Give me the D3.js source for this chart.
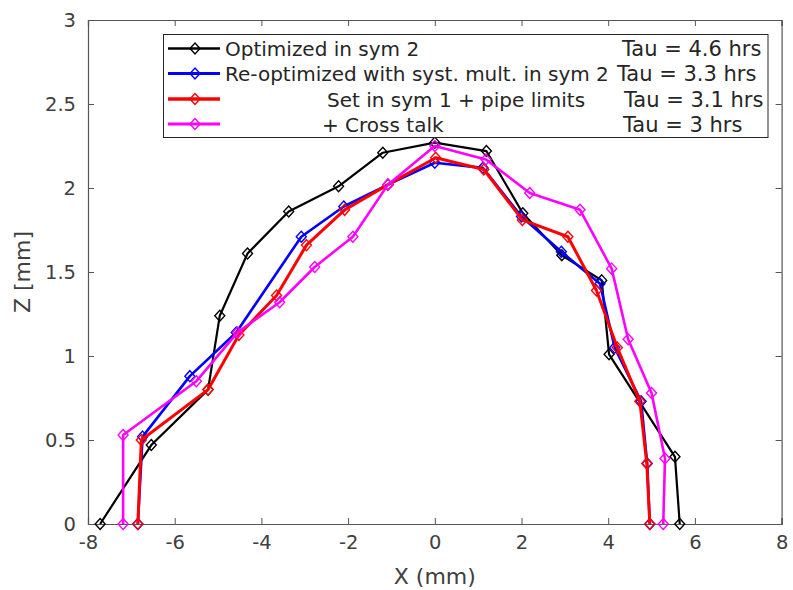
<!DOCTYPE html>
<html>
<head>
<meta charset="utf-8">
<script src="https://cdn.jsdelivr.net/npm/d3@7"></script>
<style>
  html, body { margin: 0; padding: 0; background: #fff; }
  svg { display: block; font-family: "DejaVu Sans", sans-serif; }
</style>
</head>
<body>
<svg id="chart" width="793" height="590"></svg>
<script>
// ---- data (X in mm, Z in mm) ----
const blackX = [-7.72, -6.54, -5.23, -4.96, -4.32, -3.37, -2.22, -1.20, 0.00, 1.19, 2.03, 2.93, 3.85, 4.02, 5.54, 5.65];
const blackZ = [0.00, 0.47, 0.80, 1.24, 1.61, 1.86, 2.01, 2.21, 2.27, 2.22, 1.85, 1.60, 1.45, 1.01, 0.40, 0.00];

const blueX = [-6.85, -6.74, -5.65, -4.58, -3.08, -2.10, -1.08, 0.00, 1.11, 2.00, 2.92, 3.81, 4.15, 4.76, 4.90, 4.96];
const blueZ = [0.00, 0.52, 0.88, 1.14, 1.71, 1.89, 2.02, 2.15, 2.12, 1.83, 1.62, 1.43, 1.05, 0.73, 0.36, 0.00];

const redX = [-6.85, -6.77, -5.23, -4.52, -3.65, -2.96, -2.08, -1.08, 0.02, 1.13, 2.02, 3.07, 3.73, 4.21, 4.73, 4.89, 4.96];
const redZ = [0.00, 0.50, 0.80, 1.125, 1.36, 1.66, 1.87, 2.02, 2.18, 2.11, 1.81, 1.71, 1.39, 1.05, 0.73, 0.36, 0.00];

const magentaX = [-7.19, -7.19, -5.50, -4.55, -3.58, -2.77, -1.89, -1.08, 0.00, 1.18, 2.19, 3.35, 4.08, 4.46, 5.00, 5.31, 5.27];
const magentaZ = [0.00, 0.53, 0.85, 1.14, 1.32, 1.53, 1.71, 2.02, 2.25, 2.17, 1.97, 1.87, 1.52, 1.10, 0.78, 0.39, 0.00];

const seriesNames = ["Optimized in sym 2", "Re-optimized with syst. mult. in sym 2", "Set in sym 1 + pipe limits", "+ Cross talk"];
const tauLabels = ["Tau = 4.6 hrs", "Tau = 3.3 hrs", "Tau = 3.1 hrs", "Tau = 3 hrs"];
const xTicks = [-8, -6, -4, -2, 0, 2, 4, 6, 8];
const yTicks = [0, 0.5, 1, 1.5, 2, 2.5, 3];

// ---- layout ----
const L = 88, R = 781.6, T = 20, B = 524;
const svg = d3.select("#chart");
const x = d3.scaleLinear().domain([-8, 8]).range([L, R]);
const y = d3.scaleLinear().domain([0, 3]).range([B, T]);
const frameColor = "#555";

const series = [
  { xs: blackX, zs: blackZ, color: "#000000", lw: 2.2 },
  { xs: blueX, zs: blueZ, color: "#0000ff", lw: 2.6 },
  { xs: redX, zs: redZ, color: "#ff0000", lw: 3.0 },
  { xs: magentaX, zs: magentaZ, color: "#ff00ff", lw: 2.6 }
];

// axes (ticks inside on all sides)
const fmt = d => String(d);
const gB = svg.append("g").attr("transform", `translate(0,${B})`)
  .call(d3.axisBottom(x).tickValues(xTicks).tickSize(-6).tickPadding(11).tickFormat(fmt));
const gT = svg.append("g").attr("transform", `translate(0,${T})`)
  .call(d3.axisTop(x).tickValues(xTicks).tickSize(-6).tickFormat(""));
const gL = svg.append("g").attr("transform", `translate(${L},0)`)
  .call(d3.axisLeft(y).tickValues(yTicks).tickSize(-6).tickPadding(12).tickFormat(fmt));
const gR = svg.append("g").attr("transform", `translate(${R},0)`)
  .call(d3.axisRight(y).tickValues(yTicks).tickSize(-6).tickFormat(""));
[gB, gT, gL, gR].forEach(g => {
  g.select(".domain").attr("stroke", frameColor).attr("stroke-width", 1.2);
  g.selectAll(".tick line").attr("stroke", frameColor).attr("stroke-width", 1);
  g.selectAll(".tick text").attr("fill", "#404040").style("font-size", "19.5px")
    .style("font-family", "'DejaVu Sans', sans-serif");
});

// axis labels
svg.append("text").attr("x", (L + R) / 2).attr("y", 584).attr("text-anchor", "middle")
  .attr("fill", "#404040").style("font-size", "22px").text("X (mm)");
svg.append("text").attr("transform", `translate(30,${(T + B) / 2}) rotate(-90)`)
  .attr("text-anchor", "middle").attr("fill", "#404040").style("font-size", "22px").text("Z [mm]");

// diamond marker
const diamond = "M0,-5.5L5,0L0,5.5L-5,0Z";

// series
const line = d3.line().x(d => x(d[0])).y(d => y(d[1]));
series.forEach(s => {
  const pts = s.xs.map((v, i) => [v, s.zs[i]]);
  svg.append("path").datum(pts).attr("d", line).attr("fill", "none")
    .attr("stroke", s.color).attr("stroke-width", s.lw).attr("stroke-linejoin", "round");
  svg.append("g").selectAll("path").data(pts).join("path")
    .attr("transform", d => `translate(${x(d[0])},${y(d[1])})`)
    .attr("d", diamond).attr("fill", "none").attr("stroke", s.color).attr("stroke-width", 1.4);
});

// legend
const lg = svg.append("g");
lg.append("rect").attr("x", 163.5).attr("y", 34.5).attr("width", 604.5).attr("height", 103)
  .attr("fill", "#fff").attr("stroke", "#262626").attr("stroke-width", 1);
const rowY = [48.5, 73.5, 99, 124];
const labelX = [225, 225, 327, 322];
const tauX = [622, 617, 624, 623];
series.forEach((s, i) => {
  lg.append("line").attr("x1", 168).attr("x2", 220).attr("y1", rowY[i]).attr("y2", rowY[i])
    .attr("stroke", s.color).attr("stroke-width", s.lw + 0.4);
  lg.append("path").attr("transform", `translate(195,${rowY[i]})`).attr("d", diamond)
    .attr("fill", "none").attr("stroke", s.color).attr("stroke-width", 1.4);
  lg.append("text").attr("x", labelX[i]).attr("y", rowY[i] + 7.5).attr("fill", "#262626")
    .style("font-size", "20px").text(seriesNames[i]);
  lg.append("text").attr("x", tauX[i]).attr("y", rowY[i] + 7.5).attr("fill", "#262626")
    .style("font-size", "21px").text(tauLabels[i]);
});
</script>
</body>
</html>
